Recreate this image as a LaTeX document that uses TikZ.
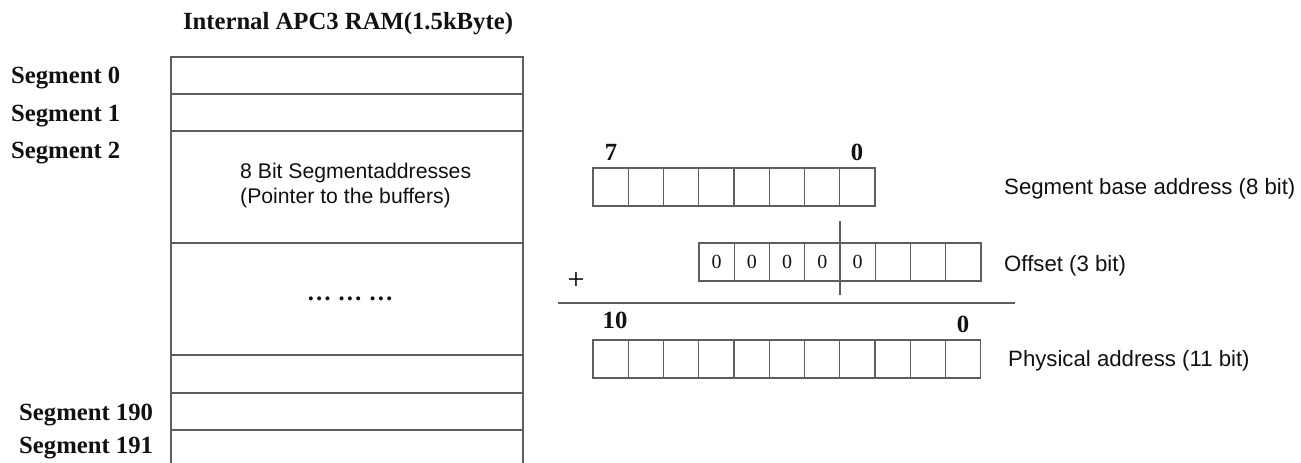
\documentclass[tikz,border=0pt]{standalone}
\usepackage{fontspec}
\setmainfont{Liberation Serif}
\setsansfont{Liberation Sans}
\usetikzlibrary{positioning, calc}
\definecolor{ramink}{HTML}{111111}
\definecolor{gridline}{HTML}{5E5E5E}
\tikzset{
  memrow/.style={draw=gridline, line width=1.1pt, minimum width=352pt, inner sep=0pt, outer sep=0pt},
  bitcell/.style={draw=gridline, line width=1.1pt, minimum width=35.25pt, minimum height=38pt,
    inner sep=0pt, outer sep=0pt, font=\fontsize{20}{20}\selectfont, text=ramink},
  seglabel/.style={anchor=west, inner sep=0pt, font=\fontsize{24.7}{28}\selectfont\bfseries, text=ramink},
  bitnum/.style={inner sep=0pt, font=\fontsize{24.7}{28}\selectfont\bfseries, text=ramink},
  desc/.style={anchor=west, inner sep=0pt, align=left, font=\sffamily\fontsize{22.2}{25}\selectfont, text=ramink},
  rule/.style={draw=gridline, line width=1.1pt}
}

\begin{document}
\begin{tikzpicture}[x=1pt, y=-1pt]
\useasboundingbox (0,0) rectangle (1301,463);
% RAM column
\node[bitnum] (title) at (348,24) {Internal APC3 RAM(1.5kByte)};
\node[memrow, minimum height=37pt, anchor=north west] (seg0) at (171,57) {};
\node[memrow, minimum height=37pt, below=0pt of seg0] (seg1) {};
\node[memrow, minimum height=112pt, below=0pt of seg1] (seg2) {};
\node[memrow, minimum height=112pt, below=0pt of seg2] (gap) {};
\node[memrow, minimum height=38pt, below=0pt of gap] (spare) {};
\node[memrow, minimum height=37pt, below=0pt of spare] (seg190) {};
\node[memrow, minimum height=37pt, below=0pt of seg190] (seg191) {};
\node[seglabel] (lab0) at (11,78) {Segment 0};
\node[seglabel] (lab1) at (11,116) {Segment 1};
\node[seglabel] (lab2) at (11,153) {Segment 2};
\node[seglabel] (lab190) at (19,415) {Segment 190};
\node[seglabel] (lab191) at (19,448) {Segment 191};
\node[desc, font=\sffamily\fontsize{21.2}{25}\selectfont] (segtext) at (240,186) {8 Bit Segmentaddresses\\(Pointer to the buffers)};
\node[bitnum] (dots) at (350,299) {… … …};
% address arithmetic
\foreach \i in {0,...,7}
  \node[bitcell] (base\i) at ({610.6+35.25*\i},187) {};
\foreach \i in {0,...,7}
  \node[bitcell] (offs\i) at ({716.6+35.25*\i},262) {\ifnum\i<5 0\fi};
\foreach \i in {0,...,10}
  \node[bitcell] (phys\i) at ({610.6+35.25*\i},359) {};
\node[bitnum] (hi7) at (611,152) {7};
\node[bitnum] (lo0) at (857,152) {0};
\node[bitnum] (hi10) at (615,320) {10};
\node[bitnum] (plo0) at (963,324) {0};
\node[font=\fontsize{30}{30}\selectfont, inner sep=0pt] (plus) at (576,281) {+};
\coordinate (sumL) at (558,303);
\coordinate (sumR) at (1015,303);
\draw[rule] (sumL) -- (sumR);
\draw[rule] (offs4.north west) ++(0,-22) -- ++(0,74);
\node[desc] (basetext) at (1004,189) {Segment base address (8 bit)};
\node[desc] (offstext) at (1004,266) {Offset (3 bit)};
\node[desc] (phystext) at (1008,361) {Physical address (11 bit)};
\end{tikzpicture}
\end{document}
